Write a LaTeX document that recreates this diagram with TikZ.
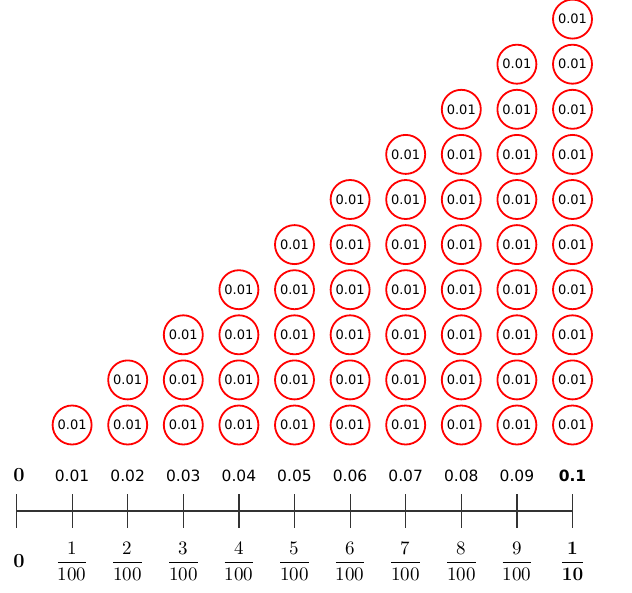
\documentclass[tikz,border=0pt]{standalone}
\usepackage{amsmath}
\usepackage{unicode-math}
\newfontfamily\dejavu{DejaVu Sans}
\usetikzlibrary{positioning,calc}

\begin{document}
\begin{tikzpicture}[x=1pt, y=-1pt, coin/.style={draw=red, line width=1.8pt, circle, minimum size=39pt, inner sep=0pt, font=\dejavu\fontsize{13}{15}\selectfont}, declabel/.style={font=\dejavu\fontsize{15.5}{18}\selectfont}, fraclabel/.style={font=\fontsize{19}{22}\selectfont}, zerolabel/.style={font=\bfseries\fontsize{20}{24}\selectfont}, tick/.style={line width=1.2pt, draw=black!80}]
\useasboundingbox (0,0) rectangle (632,592);
% number line
\foreach \i in {0,...,10} \coordinate (t\i) at (16.5+55.6*\i, 511);
\draw[tick] (t0) -- (t10);
\foreach \i in {0,...,10} \draw[tick] ($(t\i)+(0,-17)$) -- ($(t\i)+(0,17)$);
% labels
\node[zerolabel] (d0) at (19,475) {0};
\node[zerolabel] (f0) at (19,561) {0};
\foreach \i in {1,...,9} {
  \node[declabel] (d\i) at (16.5+55.6*\i, 476) {0.0\i};
  \node[fraclabel] (f\i) at (16.5+55.6*\i, 561) {$\dfrac{\i}{100}$};
}
\node[declabel, font=\dejavu\bfseries\fontsize{15.5}{18}\selectfont] (d10) at (572.5,476) {0.1};
\node[fraclabel] (f10) at (572.5,561) {$\genfrac{}{}{1.3pt}{0}{\mathbf{1}}{\mathbf{10}}$};
% coins
\foreach \i in {1,...,10}
  \foreach \j in {1,...,\i}
    \node[coin] (c\i-\j) at (16.5+55.6*\i, 425-45.1*\j+45.1) {0.01};
\end{tikzpicture}
\end{document}
